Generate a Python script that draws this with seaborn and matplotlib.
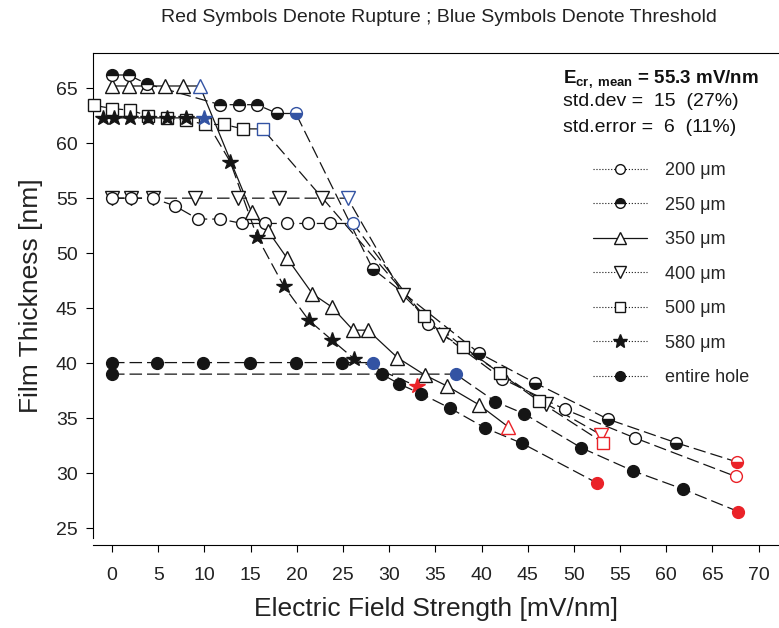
import matplotlib
matplotlib.use("Agg")
import matplotlib.pyplot as plt
import seaborn as sns
import pandas as pd
from matplotlib.lines import Line2D

# ---- data (E field in mV/nm, thickness in nm) ----
# flags: "" normal, "thr" = threshold (blue), "rup" = rupture (red)
x200 = [0, 2.1, 4.4, 6.8, 9.3, 11.7, 14.1, 16.6, 18.9, 21.2, 23.6, 26.1, 34.2, 42.2, 49.0, 56.6, 67.5]
y200 = [55.0, 55.0, 55.0, 54.3, 53.1, 53.1, 52.7, 52.7, 52.7, 52.7, 52.7, 52.7, 43.6, 38.6, 35.8, 33.2, 29.7]
f200 = [""] * 11 + ["thr"] + [""] * 4 + ["rup"]

x250 = [0, 1.8, 3.75, 11.7, 13.7, 15.7, 17.9, 19.9, 28.2, 39.75, 45.8, 53.7, 61.1, 67.7]
y250 = [66.2, 66.2, 65.4, 63.5, 63.5, 63.5, 62.7, 62.7, 48.6, 40.9, 38.2, 34.9, 32.75, 31.0]
f250 = [""] * 7 + ["thr"] + [""] * 5 + ["rup"]

x350 = [0, 1.8, 3.75, 5.7, 7.65, 9.5, 15.1, 16.9, 18.9, 21.7, 23.8, 26.1, 27.7, 30.9, 33.9, 36.3, 39.75, 42.9]
y350 = [65.2, 65.2, 65.2, 65.2, 65.2, 65.2, 53.75, 52.0, 49.6, 46.3, 45.1, 43.0, 43.0, 40.5, 38.9, 37.9, 36.2, 34.2]
f350 = [""] * 5 + ["thr"] + [""] * 11 + ["rup"]

x400 = [0, 2.1, 4.4, 9.0, 13.6, 18.1, 22.7, 25.5, 31.5, 35.8, 47.0, 52.9]
y400 = [55.0, 55.0, 55.0, 55.0, 55.0, 55.0, 55.0, 55.0, 46.2, 42.6, 36.3, 33.5]
f400 = [""] * 7 + ["thr"] + [""] * 3 + ["rup"]

x500 = [-2.0, 0, 1.95, 3.9, 6.0, 8.0, 10.1, 12.1, 14.2, 16.3, 33.8, 38.0, 42.0, 46.2, 53.2]
y500 = [63.45, 63.15, 63.0, 62.5, 62.25, 62.1, 61.7, 61.7, 61.3, 61.3, 44.3, 41.5, 39.1, 36.55, 32.75]
f500 = [""] * 9 + ["thr"] + [""] * 4 + ["rup"]

x580 = [-1.0, 0.2, 1.95, 3.9, 6.0, 8.0, 10.0, 12.8, 15.7, 18.6, 21.3, 23.8, 26.2, 33.0]
y580 = [62.3, 62.3, 62.3, 62.3, 62.3, 62.3, 62.3, 58.3, 51.5, 47.0, 43.9, 42.1, 40.4, 37.9]
f580 = [""] * 6 + ["thr"] + [""] * 6 + ["rup"]

# entire hole: two runs
xha = [0, 4.9, 9.9, 14.9, 19.9, 24.9, 28.3, 29.2, 31.1, 33.5, 36.6, 40.4, 44.4, 52.5]
yha = [40.05, 40.05, 40.05, 40.05, 40.05, 40.05, 40.05, 39.0, 38.1, 37.2, 35.9, 34.1, 32.7, 29.1]
fha = [""] * 6 + ["thr"] + [""] * 6 + ["rup"]

xhb = [0, 37.2, 41.5, 44.6, 50.8, 56.4, 61.8, 67.8]
yhb = [39.0, 39.0, 36.5, 35.4, 32.3, 30.2, 28.55, 26.5]
fhb = ["", "thr", "", "", "", "", "", "rup"]

legend_labels = ["200 \u03bcm", "250 \u03bcm", "350 \u03bcm", "400 \u03bcm", "500 \u03bcm", "580 \u03bcm", "entire hole"]

title = "Red Symbols Denote Rupture ; Blue Symbols Denote Threshold"
stats_lines = [r"$\mathbf{E_{cr,\ mean}}$ = 55.3 mV/nm", "std.dev =  15  (27%)", "std.error =  6  (11%)"]

# ---- style ----
sns.set_theme(style="white")
plt.rcParams["font.family"] = ["Liberation Sans", "DejaVu Sans"]
plt.rcParams["mathtext.fontset"] = "custom"
plt.rcParams["mathtext.rm"] = "Liberation Sans"
plt.rcParams["mathtext.bf"] = "Liberation Sans:bold"
plt.rcParams["mathtext.it"] = "Liberation Sans:italic"

BLUE = "#3353a3"
RED = "#ea2228"
BLK = "#151515"
col_of = {"": BLK, "thr": BLUE, "rup": RED}

# drawing order matters: 400 sits under the 200 circles on the plateau
series = [
    ("400", x400, y400, f400, "v", "open", 10),
    ("200", x200, y200, f200, "o", "open", 8.5),
    ("350", x350, y350, f350, "^", "open", 10),
    ("250", x250, y250, f250, "o", "half", 8.5),
    ("500", x500, y500, f500, "s", "open", 8.5),
    ("580", x580, y580, f580, "*", "filled", 11.5),
    ("hole_a", xha, yha, fha, "o", "filled", 8.5),
    ("hole_b", xhb, yhb, fhb, "o", "filled", 8.5),
]

rows = []
for name, xs, ys, fl, *_ in series:
    for i, (xv, yv) in enumerate(zip(xs, ys)):
        rows.append({"series": name, "order": i, "E": xv, "t": yv})
df = pd.DataFrame(rows)

fig = plt.figure(figsize=(7.79, 6.28), dpi=100)
ax = fig.add_axes([93 / 779, 1 - 538 / 628, 1 - 93 / 779, (538 - 53) / 628])

dash = (10, 4)

# connecting lines per series (seaborn lineplot, unsorted)
for name, xs, ys, fl, *_ in series:
    sub = df[df.series == name]
    sns.lineplot(data=sub, x="E", y="t", sort=False, estimator=None, color=BLK,
                 lw=0.9, ax=ax, legend=False, zorder=2,
                 linestyle="-" if name == "350" else (0, dash))

# markers, coloured by status
z = 3
for name, xs, ys, fl, mk, kind, ms in series:
    z += 0.1
    for flag in ["", "thr", "rup"]:
        px = [xv for xv, f in zip(xs, fl) if f == flag]
        py = [yv for yv, f in zip(ys, fl) if f == flag]
        if not px:
            continue
        c = col_of[flag]
        if kind == "open":
            ax.plot(px, py, ls="none", marker=mk, ms=ms, mfc="white", mec=c, mew=1.0,
                    zorder=z, clip_on=False)
        elif kind == "filled":
            ax.plot(px, py, ls="none", marker=mk, ms=ms, mfc=c, mec=c, mew=1.0,
                    zorder=z, clip_on=False)
        else:
            # half filled circles: top half on the first plateau, bottom half after
            idx = [i for i, f in enumerate(fl) if f == flag]
            top = [i for i in idx if i < 6]
            bot = [i for i in idx if i >= 6]
            for part, fs in ((top, "top"), (bot, "bottom")):
                if part:
                    ax.plot([xs[i] for i in part], [ys[i] for i in part], ls="none", marker="o",
                            ms=ms, fillstyle=fs, mfc=c, mfcalt="white", mec=c, mew=1.0,
                            zorder=z, clip_on=False)

ax.set_xlim(-2.06, 72.2)
ax.set_ylim(24.1, 68.2)
ax.set_xticks(range(0, 71, 5))
ax.set_yticks(range(25, 66, 5))

for s in ["left", "top", "bottom"]:
    ax.spines[s].set_color("black")
    ax.spines[s].set_linewidth(0.8)
ax.spines["right"].set_visible(False)
ax.spines["bottom"].set_position(("outward", 5))

ax.tick_params(axis="both", direction="out", length=5, width=0.8, color="black",
               labelsize=14, labelcolor="#222222")
ax.tick_params(axis="x", pad=11, bottom=True)
ax.tick_params(axis="y", pad=6, left=True)

ax.set_xlabel("Electric Field Strength [mV/nm]", fontsize=19, labelpad=9, color="#222222")
ax.set_ylabel("Film Thickness [nm]", fontsize=19, labelpad=9, color="#222222")

fig.text(439 / 779, 1 - 18 / 628, title, ha="center", va="center", fontsize=14, color="#222222")
for i, (txt, yy) in enumerate(zip(stats_lines, [79, 102, 127])):
    fig.text(563 / 779, 1 - yy / 628, txt, ha="left", va="center",
             fontsize=13.5 if i == 0 else 14,
             fontweight="bold" if i == 0 else "normal", color="#111111")

# legend
handles = [
    Line2D([], [], color=BLK, ls=":", lw=0.8, marker="o", ms=7, mfc="white", mec=BLK),
    Line2D([], [], color=BLK, ls=":", lw=0.8, marker="o", ms=7, fillstyle="top", mfc=BLK, mfcalt="white", mec=BLK),
    Line2D([], [], color=BLK, ls="-", lw=0.9, marker="^", ms=8, mfc="white", mec=BLK),
    Line2D([], [], color=BLK, ls=":", lw=0.8, marker="v", ms=8, mfc="white", mec=BLK),
    Line2D([], [], color=BLK, ls=":", lw=0.8, marker="s", ms=7, mfc="white", mec=BLK),
    Line2D([], [], color=BLK, ls=":", lw=0.8, marker="*", ms=10, mfc=BLK, mec=BLK),
    Line2D([], [], color=BLK, ls=":", lw=0.8, marker="o", ms=7, mfc=BLK, mec=BLK),
]
fig.legend(handles, legend_labels, loc="upper left", bbox_to_anchor=(593 / 779, 1 - 162 / 628),
           bbox_transform=fig.transFigure, frameon=False, fontsize=13, handlelength=3.0,
           handletextpad=1.0, labelspacing=0.97, borderpad=0, borderaxespad=0)

fig.savefig("out.png", dpi=100)
